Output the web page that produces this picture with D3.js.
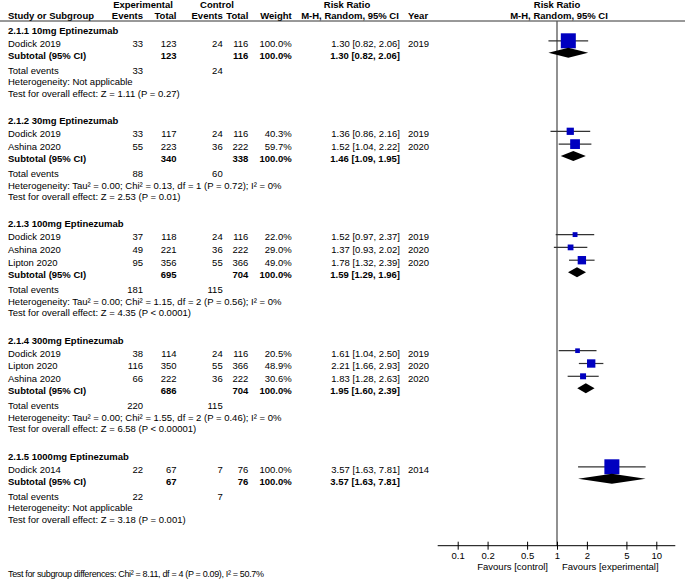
<!DOCTYPE html>
<html>
<head>
<meta charset="utf-8">
<script src="https://cdn.jsdelivr.net/npm/d3@7"></script>
<style>
  html, body { margin: 0; padding: 0; background: #fff; }
  svg { display: block; }
  text { font-family: "Liberation Sans", Arial, sans-serif; font-size: 9.5px; fill: #000; }
  .b { font-weight: bold; }
</style>
</head>
<body>
<svg id="chart" width="685" height="580"></svg>
<script>
// ---------------- DATA ----------------
const subgroups = [
  "2.1.1 10mg Eptinezumab",
  "2.1.2 30mg Eptinezumab",
  "2.1.3 100mg Eptinezumab",
  "2.1.4 300mg Eptinezumab",
  "2.1.5 1000mg Eptinezumab"
];
const studyGroup   = [0, 1, 1, 2, 2, 2, 3, 3, 3, 4];
const studyNames   = ["Dodick 2019", "Dodick 2019", "Ashina 2020", "Dodick 2019", "Ashina 2020", "Lipton 2020",
                      "Dodick 2019", "Lipton 2020", "Ashina 2020", "Dodick 2014"];
const expEvents    = [33, 33, 55, 37, 49, 95, 38, 116, 66, 22];
const expTotal     = [123, 117, 223, 118, 221, 356, 114, 350, 222, 67];
const ctlEvents    = [24, 24, 36, 24, 36, 55, 24, 55, 36, 7];
const ctlTotal     = [116, 116, 222, 116, 222, 366, 116, 366, 222, 76];
const weights      = [100.0, 40.3, 59.7, 22.0, 29.0, 49.0, 20.5, 48.9, 30.6, 100.0];
const riskRatio    = [1.30, 1.36, 1.52, 1.52, 1.37, 1.78, 1.61, 2.21, 1.83, 3.57];
const ciLower      = [0.82, 0.86, 1.04, 0.97, 0.93, 1.32, 1.04, 1.66, 1.28, 1.63];
const ciUpper      = [2.06, 2.16, 2.22, 2.37, 2.02, 2.39, 2.50, 2.93, 2.63, 7.81];
const years        = [2019, 2019, 2020, 2019, 2020, 2020, 2019, 2020, 2020, 2014];

const subExpTotal  = [123, 340, 695, 686, 67];
const subCtlTotal  = [116, 338, 704, 704, 76];
const subWeight    = [100.0, 100.0, 100.0, 100.0, 100.0];
const subRR        = [1.30, 1.46, 1.59, 1.95, 3.57];
const subLower     = [0.82, 1.09, 1.29, 1.60, 1.63];
const subUpper     = [2.06, 1.95, 1.96, 2.39, 7.81];
const totExpEvents = [33, 88, 181, 220, 22];
const totCtlEvents = [24, 60, 115, 115, 7];
const heterogeneity = [
  "Heterogeneity: Not applicable",
  "Heterogeneity: Tau² = 0.00; Chi² = 0.13, df = 1 (P = 0.72); I² = 0%",
  "Heterogeneity: Tau² = 0.00; Chi² = 1.15, df = 2 (P = 0.56); I² = 0%",
  "Heterogeneity: Tau² = 0.00; Chi² = 1.55, df = 2 (P = 0.46); I² = 0%",
  "Heterogeneity: Not applicable"
];
const overallEffect = [
  "Test for overall effect: Z = 1.11 (P = 0.27)",
  "Test for overall effect: Z = 2.53 (P = 0.01)",
  "Test for overall effect: Z = 4.35 (P < 0.0001)",
  "Test for overall effect: Z = 6.58 (P < 0.00001)",
  "Test for overall effect: Z = 3.18 (P = 0.001)"
];
const subgroupTest = "Test for subgroup differences: Chi² = 8.11, df = 4 (P = 0.09), I² = 50.7%";
const tickValues   = [0.1, 0.2, 0.5, 1, 2, 5, 10];
const favoursLeft  = "Favours [control]";
const favoursRight = "Favours [experimental]";

// ---------------- LAYOUT ----------------
const svg = d3.select("#chart");
const x = d3.scaleLog().domain([0.1, 10]).range([457.7, 656.3]);

const col = { name: 8, eE: 143, eT: 176.5, cE: 222.7, cT: 248.3, w: 291.7, rr: 400, yr: 408 };
const axisY = 545.7;
const topLineY = 21;
const fmt2 = d3.format(".2f");
const ciText = (r, l, u) => `${fmt2(r)} [${fmt2(l)}, ${fmt2(u)}]`;

function txt(xp, yp, s, anchor, bold) {
  return svg.append("text")
    .attr("x", xp).attr("y", yp).attr("dy", "0.35em")
    .attr("text-anchor", anchor || "start")
    .attr("class", bold ? "b" : null)
    .text(s);
}

// Header
txt(143, 5, "Experimental", "middle", true);
txt(217, 5, "Control", "middle", true);
txt(347, 5, "Risk Ratio", "middle", true);
txt(x(1), 5, "Risk Ratio", "middle", true);
txt(col.name, 16, "Study or Subgroup", "start", true);
txt(col.eE, 16, "Events", "end", true);
txt(col.eT, 16, "Total", "end", true);
txt(col.cE, 16, "Events", "end", true);
txt(col.cT, 16, "Total", "end", true);
txt(col.w, 16, "Weight", "end", true);
txt(350, 16, "M-H, Random, 95% CI", "middle", true);
txt(col.yr, 16, "Year", "start", true);
txt(x(1) + 2, 16, "M-H, Random, 95% CI", "middle", true);

svg.append("line").attr("x1", 0).attr("x2", 685)
  .attr("y1", topLineY).attr("y2", topLineY)
  .attr("stroke", "#333").attr("stroke-width", 1);

// vertical reference line
svg.append("line").attr("x1", x(1)).attr("x2", x(1))
  .attr("y1", topLineY).attr("y2", axisY)
  .attr("stroke", "#555").attr("stroke-width", 1.3);

const markOff = -2.5;
let yy = 30.3;
subgroups.forEach((g, gi) => {
  txt(col.name, yy, g, "start", true);
  yy += 13;
  const idx = studyGroup.map((s, i) => s === gi ? i : -1).filter(i => i >= 0);
  let last = yy;
  idx.forEach((i, k) => {
    const ry = yy + k * 12.8;
    last = ry;
    txt(col.name, ry, studyNames[i]);
    txt(col.eE, ry, expEvents[i], "end");
    txt(col.eT, ry, expTotal[i], "end");
    txt(col.cE, ry, ctlEvents[i], "end");
    txt(col.cT, ry, ctlTotal[i], "end");
    txt(col.w, ry, weights[i].toFixed(1) + "%", "end");
    txt(col.rr, ry, ciText(riskRatio[i], ciLower[i], ciUpper[i]), "end");
    txt(col.yr, ry, years[i]);
    const my = ry + markOff;
    svg.append("line")
      .attr("x1", x(ciLower[i])).attr("x2", x(ciUpper[i]))
      .attr("y1", my).attr("y2", my)
      .attr("stroke", "#333").attr("stroke-width", 1.2);
    const side = 2 + 13 * weights[i] / 100;
    svg.append("rect")
      .attr("x", x(riskRatio[i]) - side / 2).attr("y", my - side / 2)
      .attr("width", side).attr("height", side)
      .attr("fill", "#0000c0");
  });
  const sy = last + 12;
  txt(col.name, sy, "Subtotal (95% CI)", "start", true);
  txt(col.eT, sy, subExpTotal[gi], "end", true);
  txt(col.cT, sy, subCtlTotal[gi], "end", true);
  txt(col.w, sy, subWeight[gi].toFixed(1) + "%", "end", true);
  txt(col.rr, sy, ciText(subRR[gi], subLower[gi], subUpper[gi]), "end", true);
  const dy = sy + markOff;
  const dpts = [[x(subLower[gi]), dy], [x(subRR[gi]), dy - 5], [x(subUpper[gi]), dy], [x(subRR[gi]), dy + 5]];
  svg.append("polygon").attr("points", dpts.map(p => p.join(",")).join(" ")).attr("fill", "#000");

  const ty = sy + 15.3;
  txt(col.name, ty, "Total events");
  txt(col.eE, ty, totExpEvents[gi], "end");
  txt(col.cE, ty, totCtlEvents[gi], "end");
  const hy = ty + 11.5;
  txt(col.name, hy, heterogeneity[gi]);
  const oy = hy + 11.5;
  txt(col.name, oy, overallEffect[gi]);
  yy = oy + 27.2;
});

// Axis
const axisG = svg.append("g").attr("transform", `translate(0,${axisY})`);
axisG.append("line")
  .attr("x1", x.range()[0] - 20).attr("x2", x.range()[1] + 19)
  .attr("y1", 0).attr("y2", 0)
  .attr("stroke", "#000").attr("stroke-width", 1);
const ax = d3.axisBottom(x).tickValues(tickValues).tickFormat(d => String(d)).tickSize(4);
const axG2 = axisG.append("g").call(ax);
axG2.select(".domain").remove();
axG2.selectAll(".tick line").attr("y1", -4).attr("y2", 4).attr("stroke", "#000");
axG2.selectAll(".tick text")
  .attr("y", 10).attr("dy", "0.35em")
  .attr("font-family", "Liberation Sans, Arial, sans-serif")
  .attr("font-size", 9.5).attr("fill", "#000");

txt(x(1) - 9, 566.8, favoursLeft, "end");
txt(x(1) + 5, 566.8, favoursRight, "start");

txt(col.name, 574, subgroupTest)
  .style("font-size", "9px")
  .attr("textLength", 256).attr("lengthAdjust", "spacing");
</script>
</body>
</html>
